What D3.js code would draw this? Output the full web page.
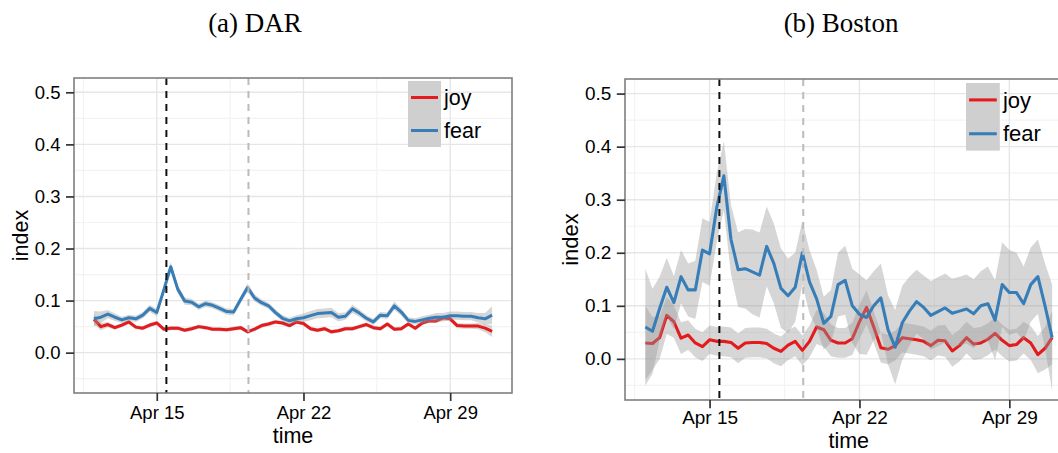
<!DOCTYPE html>
<html>
<head>
<meta charset="utf-8">
<script src="https://cdn.jsdelivr.net/npm/d3@7"></script>
<style>
  body { margin: 0; background: #fff; }
  svg { display: block; font-family: "Liberation Sans", Arial, sans-serif; }
  .title { font-family: "Liberation Serif", "DejaVu Serif", serif; }
</style>
</head>
<body>
<svg width="1058" height="453"></svg>
<script>
// samples every 8 hours, Apr 12 00:00 -> May 1 00:00
var startTime = Date.UTC(2013, 3, 12);
var stepHours = 8;

// (a) DAR
var darFear = [0.065, 0.068, 0.074, 0.068, 0.063, 0.067, 0.065, 0.072, 0.085, 0.077,
  0.120, 0.165, 0.122, 0.099, 0.097, 0.088, 0.094, 0.091, 0.085, 0.079,
  0.078, 0.102, 0.125, 0.105, 0.096, 0.090, 0.077, 0.066, 0.061, 0.065,
  0.067, 0.071, 0.075, 0.076, 0.077, 0.068, 0.070, 0.084, 0.076, 0.066,
  0.059, 0.072, 0.071, 0.090, 0.078, 0.062, 0.060, 0.063, 0.066, 0.068,
  0.068, 0.071, 0.071, 0.070, 0.070, 0.067, 0.065, 0.072];
var darFearSe = [0.015, 0.011, 0.008, 0.007, 0.006, 0.006, 0.006, 0.006, 0.007, 0.007,
  0.008, 0.009, 0.008, 0.007, 0.006, 0.006, 0.006, 0.006, 0.006, 0.006,
  0.006, 0.007, 0.008, 0.007, 0.006, 0.006, 0.006, 0.006, 0.006, 0.007,
  0.008, 0.009, 0.009, 0.009, 0.009, 0.008, 0.007, 0.008, 0.007, 0.006,
  0.006, 0.006, 0.006, 0.008, 0.007, 0.006, 0.006, 0.007, 0.007, 0.008,
  0.008, 0.008, 0.008, 0.008, 0.008, 0.009, 0.011, 0.017];
var darJoy = [0.064, 0.050, 0.054, 0.048, 0.053, 0.059, 0.049, 0.047, 0.053, 0.057,
  0.045, 0.047, 0.047, 0.043, 0.046, 0.050, 0.048, 0.045, 0.045, 0.044,
  0.046, 0.048, 0.040, 0.045, 0.052, 0.055, 0.059, 0.057, 0.052, 0.059,
  0.056, 0.046, 0.043, 0.046, 0.040, 0.042, 0.046, 0.046, 0.050, 0.054,
  0.048, 0.046, 0.055, 0.045, 0.046, 0.055, 0.047, 0.057, 0.061, 0.061,
  0.067, 0.065, 0.052, 0.051, 0.051, 0.051, 0.047, 0.041];
var darJoySe = [0.010, 0.007, 0.005, 0.004, 0.004, 0.004, 0.004, 0.004, 0.004, 0.004,
  0.004, 0.004, 0.004, 0.004, 0.004, 0.004, 0.004, 0.004, 0.004, 0.004,
  0.004, 0.004, 0.004, 0.004, 0.004, 0.004, 0.004, 0.004, 0.004, 0.004,
  0.004, 0.004, 0.004, 0.004, 0.004, 0.004, 0.004, 0.004, 0.004, 0.004,
  0.004, 0.004, 0.004, 0.004, 0.004, 0.004, 0.004, 0.004, 0.004, 0.004,
  0.005, 0.005, 0.005, 0.005, 0.005, 0.006, 0.008, 0.011];

// (b) Boston
var bosFear = [0.060, 0.052, 0.095, 0.135, 0.106, 0.155, 0.130, 0.130, 0.205, 0.198,
  0.285, 0.345, 0.225, 0.168, 0.170, 0.164, 0.158, 0.212, 0.180, 0.133,
  0.119, 0.135, 0.200, 0.145, 0.113, 0.067, 0.080, 0.140, 0.148, 0.100,
  0.084, 0.078, 0.100, 0.115, 0.055, 0.022, 0.068, 0.090, 0.108, 0.097,
  0.082, 0.089, 0.096, 0.086, 0.090, 0.094, 0.085, 0.100, 0.104, 0.073,
  0.140, 0.125, 0.125, 0.104, 0.140, 0.155, 0.100, 0.040];
var bosFearSe = [0.110, 0.080, 0.060, 0.055, 0.050, 0.050, 0.050, 0.055, 0.060, 0.060,
  0.065, 0.065, 0.065, 0.070, 0.075, 0.080, 0.080, 0.075, 0.075, 0.075,
  0.070, 0.065, 0.060, 0.060, 0.055, 0.050, 0.050, 0.060, 0.065, 0.070,
  0.075, 0.070, 0.065, 0.065, 0.065, 0.070, 0.070, 0.065, 0.060, 0.060,
  0.065, 0.065, 0.065, 0.065, 0.065, 0.065, 0.065, 0.065, 0.070, 0.075,
  0.080, 0.080, 0.075, 0.070, 0.070, 0.070, 0.080, 0.100];
var bosJoy = [0.030, 0.029, 0.040, 0.082, 0.070, 0.039, 0.045, 0.030, 0.023, 0.036,
  0.033, 0.033, 0.031, 0.020, 0.030, 0.031, 0.031, 0.029, 0.020, 0.014,
  0.026, 0.033, 0.016, 0.033, 0.060, 0.055, 0.035, 0.030, 0.030, 0.038,
  0.070, 0.097, 0.060, 0.021, 0.018, 0.025, 0.040, 0.038, 0.036, 0.033,
  0.025, 0.035, 0.034, 0.015, 0.025, 0.040, 0.028, 0.030, 0.037, 0.048,
  0.035, 0.025, 0.027, 0.040, 0.030, 0.008, 0.020, 0.040];
var bosJoySe = [0.070, 0.050, 0.040, 0.035, 0.030, 0.030, 0.028, 0.027, 0.027, 0.027,
  0.027, 0.028, 0.028, 0.028, 0.028, 0.028, 0.028, 0.028, 0.028, 0.028,
  0.028, 0.028, 0.028, 0.030, 0.032, 0.032, 0.030, 0.028, 0.028, 0.030,
  0.032, 0.032, 0.030, 0.028, 0.028, 0.028, 0.028, 0.028, 0.028, 0.028,
  0.028, 0.028, 0.030, 0.030, 0.030, 0.030, 0.030, 0.030, 0.030, 0.030,
  0.030, 0.030, 0.030, 0.030, 0.032, 0.035, 0.040, 0.050];

var seriesNames = ["joy", "fear"];
var seriesColors = { joy: "#e41a1c", fear: "#377eb8" };
var yLimits = [-0.05, 0.5];
var yTicks = [0.0, 0.1, 0.2, 0.3, 0.4, 0.5];
var xTickDates = ["2013-04-15", "2013-04-22", "2013-04-29"];
var eventDates = ["2013-04-15T11:00Z", "2013-04-19T09:00Z"];
var eventColors = ["#111", "#bbb"];

var panels = [
  { title: "(a) DAR", titleX: 255, joy: darJoy, joySe: darJoySe, fear: darFear, fearSe: darFearSe,
    left: 74, top: 78, right: 512, bottom: 393, s: 1, legendX: 408, legendY: 81,
    xPad: 5, timeY: 443 },
  { title: "(b) Boston", titleX: 841, joy: bosJoy, joySe: bosJoySe, fear: bosFear, fearSe: bosFearSe,
    left: 625, top: 79, right: 1072.5, bottom: 400, s: 1.025, legendX: 966, legendY: 83,
    xPad: 2.5, timeY: 448 }
];

var svg = d3.select("svg");

svg.selectAll("text.title")
  .data(panels)
  .enter().append("text")
  .attr("class", "title")
  .attr("x", function (d) { return d.titleX; })
  .attr("y", 32)
  .attr("text-anchor", "middle")
  .attr("font-size", 27)
  .text(function (d) { return d.title; });

panels.forEach(drawPanel);

function toRows(vals, se) {
  return vals.map(function (v, i) {
    return { t: new Date(startTime + i * stepHours * 3600e3), v: v, se: se[i] };
  });
}

function drawPanel(p) {
  var s = p.s;
  var joy = toRows(p.joy, p.joySe),
    fear = toRows(p.fear, p.fearSe);

  // ggplot-like 5% expansion
  var t0 = joy[0].t.getTime(), t1 = joy[joy.length - 1].t.getTime();
  var padT = (t1 - t0) * 0.05;
  var padY = (yLimits[1] - yLimits[0]) * 0.05;

  var x = d3.scaleUtc()
    .domain([new Date(t0 - padT), new Date(t1 + padT)])
    .range([p.left, p.right]);
  var y = d3.scaleLinear()
    .domain([yLimits[0] - padY, yLimits[1] + padY])
    .range([p.bottom, p.top]);

  var g = svg.append("g");

  g.append("rect")
    .attr("x", p.left).attr("y", p.top)
    .attr("width", p.right - p.left).attr("height", p.bottom - p.top)
    .attr("fill", "#fff");

  // grid
  var xMajor = xTickDates.map(function (d) { return new Date(d); });
  var xMinor = [];
  for (var i = 0; i < xMajor.length; i++) {
    var half = new Date(xMajor[i].getTime() - 3.5 * 864e5);
    if (half >= x.domain()[0]) xMinor.push(half);
  }
  var yMinor = yTicks.map(function (d) { return d - 0.05; });

  g.selectAll("line.minx").data(xMinor).enter().append("line")
    .attr("x1", x).attr("x2", x).attr("y1", p.top).attr("y2", p.bottom)
    .attr("stroke", "#f3f3f3").attr("stroke-width", 1.2);
  g.selectAll("line.miny").data(yMinor).enter().append("line")
    .attr("y1", y).attr("y2", y).attr("x1", p.left).attr("x2", p.right)
    .attr("stroke", "#f3f3f3").attr("stroke-width", 1.2);
  g.selectAll("line.majx").data(xMajor).enter().append("line")
    .attr("x1", x).attr("x2", x).attr("y1", p.top).attr("y2", p.bottom)
    .attr("stroke", "#e6e6e6").attr("stroke-width", 1.4);
  g.selectAll("line.majy").data(yTicks).enter().append("line")
    .attr("y1", y).attr("y2", y).attr("x1", p.left).attr("x2", p.right)
    .attr("stroke", "#e6e6e6").attr("stroke-width", 1.4);

  var band = d3.area()
    .x(function (d) { return x(d.t); })
    .y0(function (d) { return y(d.v - d.se); })
    .y1(function (d) { return y(d.v + d.se); });
  var line = d3.line()
    .x(function (d) { return x(d.t); })
    .y(function (d) { return y(d.v); });

  // joy first, fear on top (ribbon + line per group)
  [["joy", joy], ["fear", fear]].forEach(function (sr) {
    g.append("path").datum(sr[1])
      .attr("d", band)
      .attr("fill", "#999")
      .attr("fill-opacity", 0.4);
    g.append("path").datum(sr[1])
      .attr("d", line)
      .attr("fill", "none")
      .attr("stroke", seriesColors[sr[0]])
      .attr("stroke-width", 3 * s)
      .attr("stroke-linejoin", "round");
  });

  // event markers
  g.selectAll("line.event").data(eventDates).enter().append("line")
    .attr("x1", function (d) { return x(new Date(d)); })
    .attr("x2", function (d) { return x(new Date(d)); })
    .attr("y1", p.top).attr("y2", p.bottom)
    .attr("stroke", function (d, i) { return eventColors[i]; })
    .attr("stroke-width", 2)
    .attr("stroke-dasharray", "7,6");

  g.append("rect")
    .attr("x", p.left).attr("y", p.top)
    .attr("width", p.right - p.left).attr("height", p.bottom - p.top)
    .attr("fill", "none")
    .attr("stroke", "#7f7f7f")
    .attr("stroke-width", 1.6);

  // axes
  var yAxis = g.append("g")
    .attr("transform", "translate(" + p.left + ",0)")
    .call(d3.axisLeft(y).tickValues(yTicks).tickFormat(d3.format(".1f"))
      .tickSize(8 * s).tickPadding(5.5));
  var xAxis = g.append("g")
    .attr("transform", "translate(0," + p.bottom + ")")
    .call(d3.axisBottom(x).tickValues(xMajor).tickFormat(d3.utcFormat("%b %d"))
      .tickSize(8 * s).tickPadding(p.xPad));
  [yAxis, xAxis].forEach(function (ax) {
    ax.select(".domain").remove();
    ax.selectAll(".tick line").attr("stroke", "#333").attr("stroke-width", 1.7);
    ax.selectAll(".tick text")
      .attr("fill", "#000")
      .attr("font-size", 18.5 * s)
      .attr("font-family", "Liberation Sans, Arial, sans-serif");
  });

  g.append("text")
    .attr("transform", "translate(" + (p.left - 46 * s) + "," + ((p.top + p.bottom) / 2) + ") rotate(-90)")
    .attr("text-anchor", "middle")
    .attr("font-size", 21.5 * s)
    .text("index");
  g.append("text")
    .attr("x", (p.left + p.right) / 2)
    .attr("y", p.timeY)
    .attr("text-anchor", "middle")
    .attr("font-size", 21.5)
    .text("time");

  // legend
  var key = 33 * s;
  var lg = g.append("g").attr("transform", "translate(" + p.legendX + "," + p.legendY + ")");
  lg.append("rect")
    .attr("width", key).attr("height", key * seriesNames.length)
    .attr("fill", "#cfcfcf");
  var item = lg.selectAll("g.item").data(seriesNames).enter().append("g")
    .attr("transform", function (d, i) { return "translate(0," + (i * key + key / 2) + ")"; });
  item.append("line")
    .attr("x1", 3 * s).attr("x2", key - 3 * s)
    .attr("stroke", function (d) { return seriesColors[d]; })
    .attr("stroke-width", 3 * s);
  item.append("text")
    .attr("x", key + 3 * s)
    .attr("dy", "0.35em")
    .attr("font-size", 21.5 * s)
    .text(function (d) { return d; });
}
</script>
</body>
</html>
